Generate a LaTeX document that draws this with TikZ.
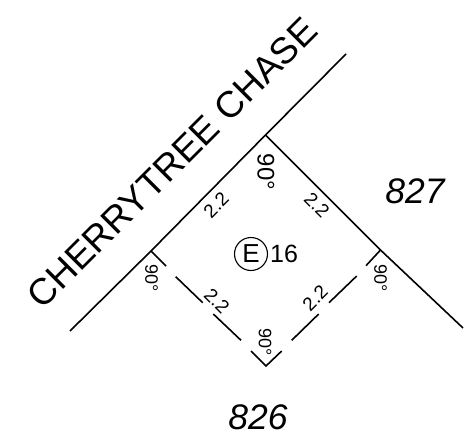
\documentclass[tikz,border=0pt]{standalone}
\usepackage{fontspec}
\setmainfont{Liberation Sans}
\tikzset{
  bdy/.style={line width=1.6pt, black},
  dim/.style={inner sep=0pt, font=\fontsize{19}{19}\selectfont},
  angl/.style={inner sep=0pt, rotate=-90, font=\fontsize{18}{18}\selectfont},
  lotnum/.style={inner sep=0pt, font=\fontsize{35.5}{36}\selectfont\itshape}
}
\begin{document}
\begin{tikzpicture}[x=1pt,y=-1pt]
\useasboundingbox (0,0) rectangle (468,439);
% corners of the lot
\coordinate (top) at (265.5,135);
\coordinate (left) at (151,251);
\coordinate (right) at (380.5,250);
\coordinate (bot) at (266,366);
% road and side boundaries
\coordinate (roadA) at (70,331);
\coordinate (roadB) at (346,54);
\coordinate (sideR) at (463,328);
\draw[bdy] (roadA) -- (left) -- (top) -- (roadB);
\draw[bdy] (top) -- (right) -- (sideR);
% broken lower left side
\coordinate (la1) at (166,266);
\coordinate (la2) at (175.7,276.7);
\coordinate (la3) at (202.7,302.7);
\coordinate (la4) at (213.3,314);
\coordinate (la5) at (241,340.3);
\coordinate (la6) at (251,351);
\draw[bdy] (left) -- (la1);
\draw[bdy] (la2) -- (la3);
\draw[bdy] (la4) -- (la5);
% broken lower right side
\coordinate (ra1) at (366,265.7);
\coordinate (ra2) at (356.7,276);
\coordinate (ra3) at (329,302.7);
\coordinate (ra4) at (318.7,314);
\coordinate (ra5) at (291.7,340.3);
\coordinate (ra6) at (281.7,351);
\draw[bdy] (right) -- (ra1);
\draw[bdy] (ra2) -- (ra3);
\draw[bdy] (ra4) -- (ra5);
\draw[bdy] (la6) -- (bot) -- (ra6);
% street name
\node[inner sep=0pt, rotate=45, font=\fontsize{37}{38}\selectfont] (street) at (172,163) {CHERRYTREE CHASE};
% lot numbers
\node[lotnum] (lotE) at (415,191) {827};
\node[lotnum] (lotS) at (258,417) {826};
% lot label
\node[circle, draw, line width=1.1pt, minimum size=33pt, inner sep=0pt, font=\fontsize{26}{26}\selectfont] (ecirc) at (251,254) {E};
\node[inner sep=0pt, font=\fontsize{25}{25}\selectfont] (lotnr) at (284,254) {16};
% lengths
\node[dim, rotate=45] (lenNW) at (216,205) {2.2};
\node[dim, rotate=-45] (lenNE) at (317,205) {2.2};
\node[dim, rotate=-45] (lenSW) at (217,301) {2.2};
\node[dim, rotate=45] (lenSE) at (315,298) {2.2};
% angles
\node[angl, font=\fontsize{24}{24}\selectfont] (angT) at (266,172) {90°};
\node[angl] (angL) at (151.5,278) {90°};
\node[angl] (angR) at (380.5,278) {90°};
\node[angl] (angB) at (265,342) {90°};
\end{tikzpicture}
\end{document}
